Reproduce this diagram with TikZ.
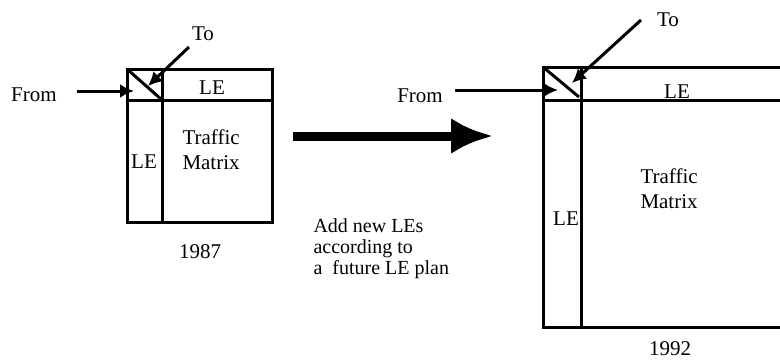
\documentclass[tikz,border=0pt]{standalone}
\usepackage{fontspec}
\setmainfont{Liberation Serif}
\usetikzlibrary{arrows.meta,positioning,calc}

\begin{document}
\begin{tikzpicture}[
    x=1pt, y=-1pt,
    line width=3pt,
    lbl/.style     = {font=\fontsize{21}{25}\selectfont, inner sep=0pt},
    gridline/.style= {draw=black, line width=3pt},
    ptr/.style     = {draw=black, line width=3pt,
                      -{Latex[length=14pt,width=14pt]}},
    growarrow/.style = {draw=black, line width=9pt,
                      -{Latex[length=42pt,width=36pt]}},
  ]
  \useasboundingbox (0,0) rectangle (780,364);
  \clip (0,0) rectangle (780,364);

  % --- 1987 matrix -----------------------------------------------------
  \coordinate (oldNW) at (127,69);
  \coordinate (oldSE) at (272,222);
  \coordinate (oldX)  at (162,100);
  \draw[gridline] (oldNW) rectangle (oldSE);
  \draw[gridline] (oldNW |- oldX) -- (oldSE |- oldX);
  \draw[gridline] (oldX |- oldNW) -- (oldX |- oldSE);
  \draw[gridline] (oldNW) -- (oldX);

  \node[lbl] (oldrow) at (212,88)  {LE};
  \node[lbl] (oldcol) at (144,162) {LE};
  \node[lbl, align=left, anchor=west] (oldtm) at (181,150) {Traffic\\Matrix};
  \node[lbl] (oldyr)  at (200,252) {1987};

  \node[lbl] (oldfrom) at (34,95) {From};
  \node[lbl] (oldto)   at (203,34) {To};
  \coordinate (oldfromS) at (77,91);
  \coordinate (oldfromE) at (134,91);
  \coordinate (oldtoS)   at (189,47);
  \coordinate (oldtoE)   at (148,86);
  \draw[ptr] (oldfromS) -- (oldfromE);
  \draw[ptr] (oldtoS) -- (oldtoE);

  % --- growth arrow ----------------------------------------------------
  \coordinate (growS) at (293,136);
  \coordinate (growE) at (493,136);
  \draw[growarrow] (growS) -- (growE);
  \node[lbl, font=\fontsize{20}{21}\selectfont, align=left,
        anchor=north west] (plan) at (312,217)
    {Add new LEs\\according to\\a~ future LE plan};

  % --- 1992 matrix -----------------------------------------------------
  \coordinate (newNW) at (543,67);
  \coordinate (newSE) at (800,327);
  \coordinate (newX)  at (581,100);
  \draw[gridline] (newNW) rectangle (newSE);
  \draw[gridline] (newNW |- newX) -- (newSE |- newX);
  \draw[gridline] (newX |- newNW) -- (newX |- newSE);
  \draw[gridline] (newNW) -- ($(newX)+(-2,-3)$);

  \node[lbl] (newrow) at (677,92)  {LE};
  \node[lbl] (newcol) at (566,219) {LE};
  \node[lbl, align=left, anchor=west] (newtm) at (639,189) {Traffic\\Matrix};
  \node[lbl] (newyr)  at (670,349) {1992};

  \node[lbl] (newfrom) at (420,96) {From};
  \node[lbl] (newto)   at (668,20) {To};
  \coordinate (newfromS) at (455,90);
  \coordinate (newfromE) at (558,90);
  \coordinate (newtoS)   at (641,20);
  \coordinate (newtoE)   at (572,83);
  \draw[ptr] (newfromS) -- (newfromE);
  \draw[ptr] (newtoS) -- (newtoE);

\end{tikzpicture}
\end{document}
